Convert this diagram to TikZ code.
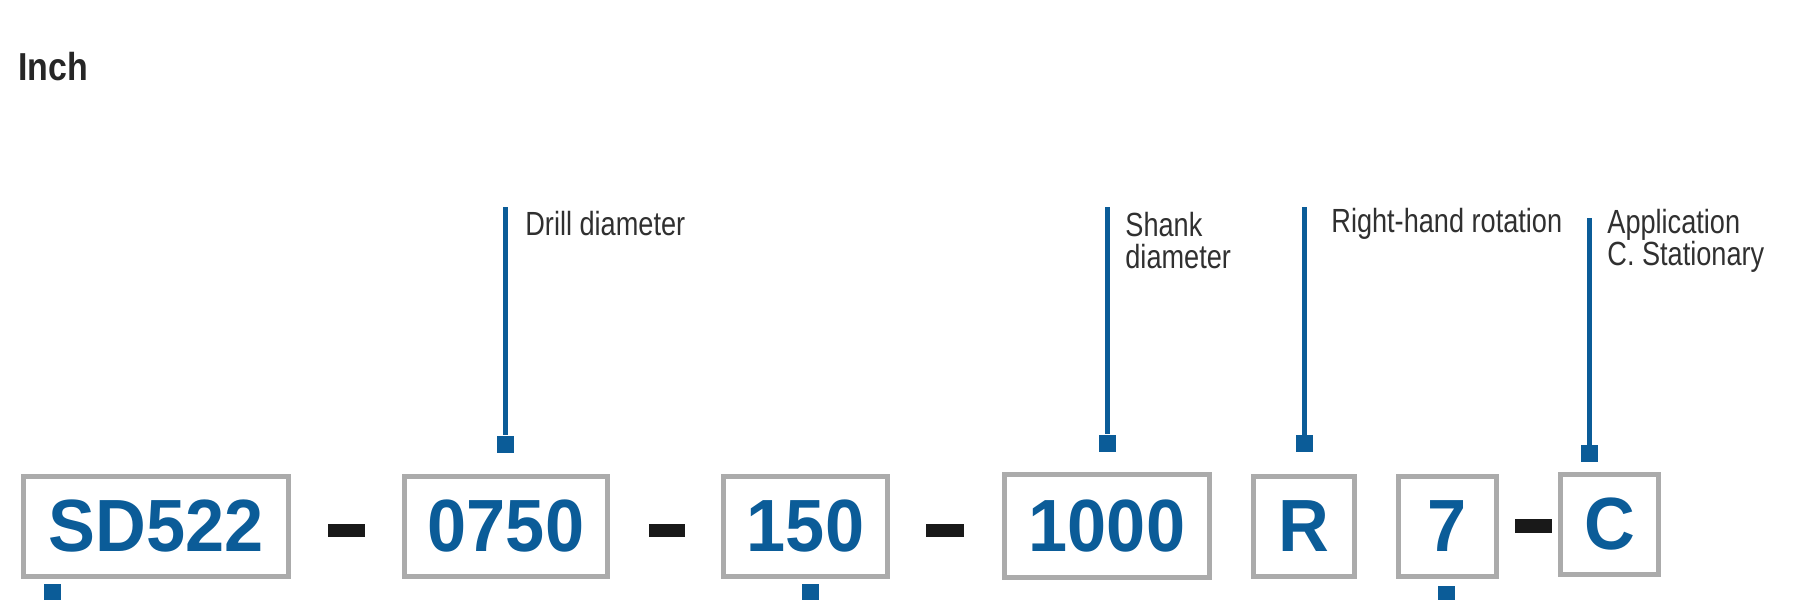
\documentclass[tikz,border=0pt]{standalone}
\usepackage{fontspec}
\setmainfont{Liberation Sans}
\newfontfamily\narrowfont[FakeStretch=0.81]{Liberation Sans}
\newfontfamily\titlefont[FakeStretch=0.87]{Liberation Sans}
\newfontfamily\codefont[FakeStretch=0.95]{Liberation Sans}
\usepackage{xcolor}
\usepackage{tikz}
\definecolor{codeblue}{HTML}{0B5C98}
\definecolor{boxgray}{HTML}{ABABAB}
\definecolor{labelgray}{HTML}{303030}
\tikzset{
    codebox/.style={draw=boxgray, line width=2.5pt, minimum height=50pt, inner sep=0pt,
        text=codeblue, font=\codefont\bfseries\fontsize{37}{37}\selectfont},
    sepbar/.style={fill=black!90, minimum width=18.5pt, minimum height=6.5pt, inner sep=0pt},
    tick/.style={fill=codeblue, minimum width=8.5pt, minimum height=8.5pt, inner sep=0pt},
    lead/.style={draw=codeblue, line width=2.5pt},
    lbl/.style={anchor=north west, inner sep=0pt, text=labelgray, align=left,
        font=\narrowfont\fontsize{16.75}{16}\selectfont}
}

\begin{document}
\begin{tikzpicture}[x=0.5pt, y=-0.5pt]
    \useasboundingbox (0,0) rectangle (1800,600);

    \node[anchor=north west, inner sep=0pt, text=black!85,
        font=\titlefont\bfseries\fontsize{19.5}{20}\selectfont] (title) at (18,52) {Inch};

    % Code boxes
    \node[codebox, minimum width=132.5pt] (series) at (156,526.5) {SD522};
    \node[codebox, minimum width=101.5pt] (drill) at (506,526.5) {0750};
    \node[codebox, minimum width=82pt] (len) at (805.5,526.5) {150};
    \node[codebox, minimum width=102.5pt, minimum height=51.5pt] (shank) at (1107,526) {1000};
    \node[codebox, minimum width=50.5pt] (rot) at (1303.5,526.5) {R};
    \node[codebox, minimum width=49pt] (flutes) at (1447,526.5) {7};
    \node[codebox, minimum width=49pt] (app) at (1609.5,524.5) {C};

    % Separators
    \node[sepbar] (sep1) at (346.5,530.5) {};
    \node[sepbar, minimum width=18pt] (sep2) at (667,530.5) {};
    \node[sepbar, minimum width=19pt] (sep3) at (945,530.5) {};
    \node[sepbar, minimum height=7pt] (sep4) at (1533.5,526) {};

    % Upper leads
    \node[tick] (drilltick) at (505,444) {};
    \node[tick] (shanktick) at (1107,443) {};
    \node[tick] (rottick) at (1304.5,443.5) {};
    \node[tick] (apptick) at (1589,453.5) {};
    \coordinate (drilltop) at (505,207);
    \coordinate (shanktop) at (1107,207);
    \coordinate (rottop) at (1304.5,207);
    \coordinate (apptop) at (1589,218);
    \draw[lead] (drilltop) -- (drilltick.north);
    \draw[lead] (shanktop) -- (shanktick.north);
    \draw[lead] (rottop) -- (rottick.north);
    \draw[lead] (apptop) -- (apptick.north);

    % Annotations
    \node[lbl] (drilllbl) at (525,211) {Drill diameter};
    \node[lbl] (shanklbl) at (1125,212) {Shank\\diameter};
    \node[lbl] (rotlbl) at (1331,208) {Right-hand rotation};
    \node[lbl] (applbl) at (1607,209) {Application\\C. Stationary};

    % Lower leads
    \node[tick, anchor=north, minimum height=9pt] (seriestick) at (52,584) {};
    \node[tick, anchor=north, minimum height=9pt] (lentick) at (810,584) {};
    \node[tick, anchor=north, minimum height=9pt] (flutestick) at (1446,586) {};
\end{tikzpicture}
\end{document}
